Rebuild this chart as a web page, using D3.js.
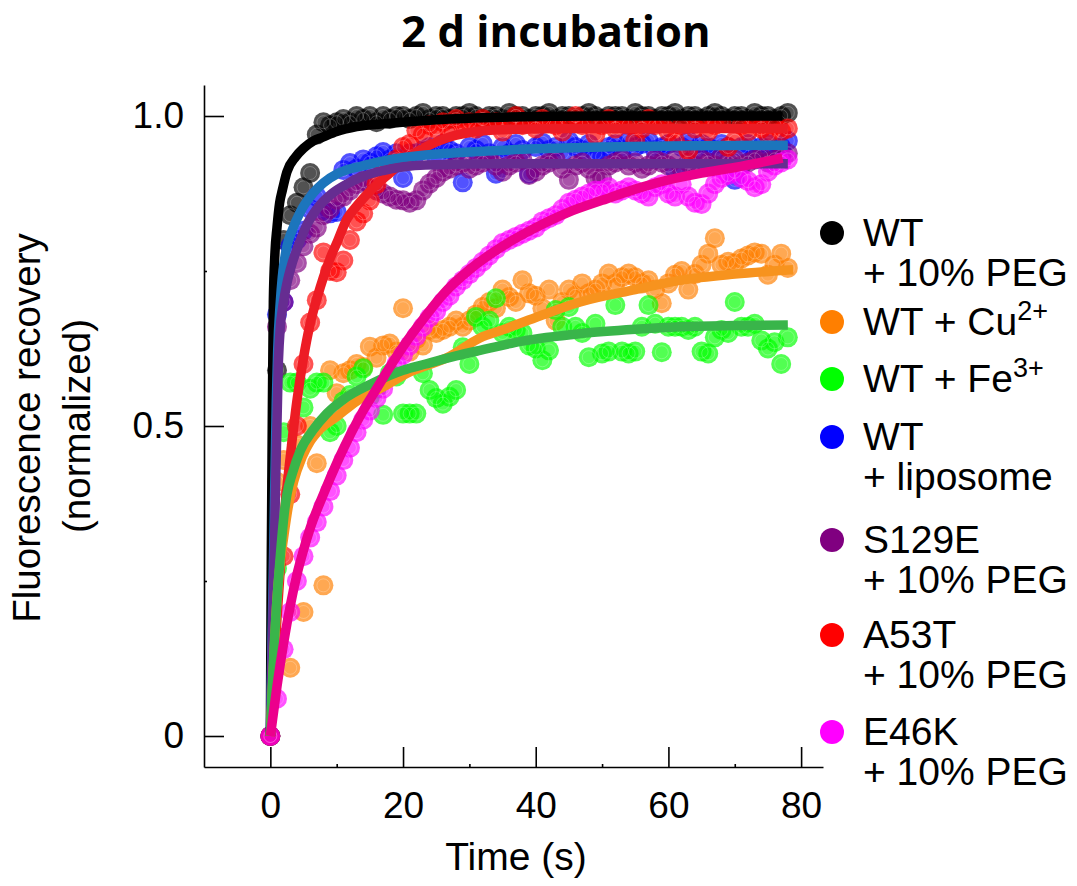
<!DOCTYPE html>
<html>
<head>
<meta charset="utf-8">
<script src="https://cdn.jsdelivr.net/npm/d3@7"></script>
<style>
  html, body { margin: 0; padding: 0; background: #fff; }
  svg { display: block; }
</style>
</head>
<body>
<svg id="chart" width="1077" height="886"></svg>
<script>
// ---------------- DATA ----------------
const times = [0,1,2,3,4,5,6,7,8,9,10,11,12,13,14,15,16,17,18,19,20,21,22,23,24,25,26,27,28,29,
  30,31,32,33,34,35,36,37,38,39,40,41,42,43,44,45,46,47,48,49,50,51,52,53,54,55,56,57,58,59,
  60,61,62,63,64,65,66,67,68,69,70,71,72,73,74,75,76,77,78];

const wtPeg = [0,0.59,0.80,0.84,0.86,0.885,0.908,0.97,0.99,0.985,
  0.99,0.995,0.99,1.0,0.995,1.0,0.99,1.0,0.995,1.0,
  1.0,0.995,1.0,1.005,0.995,1.0,1.0,0.995,1.0,1.0,
  1.005,1.0,0.995,1.0,1.0,0.995,1.005,1.0,1.0,0.995,
  1.0,1.0,1.005,0.995,1.0,1.0,0.995,1.0,1.005,1.0,
  0.995,1.0,1.0,1.0,0.995,1.005,1.0,1.0,0.995,1.0,
  1.0,1.005,0.995,1.0,1.0,0.995,1.0,1.005,1.0,0.995,
  1.0,1.0,0.995,1.005,1.0,1.0,0.995,1.0,1.005];

const wtCu = [0,0.41,0.445,0.11,0.47,0.20,0.50,0.44,0.243,0.59,
  0.553,0.585,0.59,0.60,0.595,0.628,0.61,0.63,0.633,0.62,
  0.69,0.62,0.64,0.63,0.655,0.65,0.655,0.66,0.67,0.66,
  0.67,0.68,0.692,0.70,0.69,0.72,0.708,0.70,0.735,0.714,
  0.71,0.69,0.72,0.67,0.70,0.72,0.71,0.73,0.714,0.72,
  0.73,0.746,0.73,0.74,0.746,0.74,0.73,0.735,0.72,0.698,
  0.73,0.744,0.75,0.72,0.745,0.76,0.778,0.803,0.76,0.765,
  0.762,0.77,0.775,0.78,0.778,0.744,0.76,0.778,0.755];

const wtFe = [0,0.27,0.49,0.57,0.57,0.53,0.56,0.57,0.57,0.49,
  0.50,0.54,0.55,0.58,0.593,0.547,0.56,0.518,0.585,0.58,
  0.52,0.52,0.52,0.585,0.558,0.545,0.536,0.547,0.558,0.627,
  0.60,0.676,0.66,0.67,0.706,0.65,0.66,0.655,0.65,0.63,
  0.625,0.606,0.622,0.687,0.66,0.692,0.66,0.65,0.611,0.665,
  0.617,0.62,0.695,0.62,0.617,0.62,0.66,0.695,0.665,0.619,
  0.66,0.66,0.66,0.655,0.66,0.62,0.617,0.643,0.655,0.65,
  0.70,0.66,0.66,0.665,0.638,0.625,0.635,0.60,0.643];

const wtLipo = [0,0.68,0.70,0.79,0.80,0.815,0.85,0.87,0.848,0.843,
  0.845,0.913,0.924,0.915,0.93,0.925,0.935,0.942,0.93,0.94,
  0.90,0.94,0.94,0.945,0.95,0.934,0.955,0.945,0.94,0.893,
  0.95,0.945,0.955,0.94,0.907,0.95,0.94,0.955,0.945,0.907,
  0.95,0.957,0.945,0.95,0.94,0.96,0.95,0.945,0.955,0.94,
  0.934,0.95,0.955,0.945,0.96,0.95,0.955,0.96,0.945,0.95,
  0.955,0.913,0.95,0.96,0.945,0.955,0.95,0.945,0.955,0.95,
  0.897,0.95,0.955,0.94,0.95,0.955,0.945,0.95,0.96];

const s129e = [0,0.66,0.70,0.735,0.763,0.79,0.81,0.82,0.84,0.85,
  0.865,0.87,0.88,0.89,0.895,0.89,0.88,0.875,0.87,0.865,
  0.864,0.86,0.864,0.88,0.891,0.90,0.91,0.915,0.92,0.925,
  0.915,0.92,0.925,0.93,0.92,0.91,0.92,0.925,0.93,0.905,
  0.91,0.92,0.925,0.93,0.915,0.897,0.92,0.925,0.915,0.90,
  0.90,0.92,0.925,0.93,0.92,0.925,0.915,0.92,0.93,0.925,
  0.92,0.93,0.915,0.925,0.92,0.93,0.925,0.92,0.935,0.925,
  0.93,0.92,0.925,0.93,0.935,0.925,0.93,0.935,0.94];

const a53t = [0,0.16,0.29,0.39,0.50,0.60,0.667,0.703,0.78,0.75,
  0.748,0.767,0.80,0.83,0.843,0.864,0.89,0.91,0.92,0.93,
  0.95,0.955,0.977,0.97,0.985,0.98,0.99,0.975,0.995,0.985,
  0.99,0.98,0.995,0.985,0.99,0.975,0.99,1.0,0.985,0.99,
  0.98,0.995,0.99,0.985,0.975,0.99,1.0,0.985,0.99,0.97,
  0.985,0.995,0.98,0.99,0.985,0.96,0.98,0.995,0.985,0.99,
  0.975,0.96,0.985,0.945,0.98,0.99,0.975,0.985,0.99,0.95,
  0.96,0.985,0.975,0.99,0.98,0.97,0.985,0.975,0.98];

const e46k = [0,0.06,0.14,0.20,0.25,0.29,0.32,0.345,0.37,0.395,
  0.42,0.445,0.465,0.49,0.51,0.525,0.545,0.56,0.58,0.60,
  0.615,0.63,0.645,0.66,0.675,0.685,0.70,0.71,0.725,0.735,
  0.745,0.755,0.765,0.775,0.785,0.795,0.80,0.805,0.81,0.815,
  0.82,0.83,0.835,0.84,0.85,0.86,0.865,0.87,0.875,0.88,
  0.88,0.885,0.875,0.88,0.885,0.88,0.875,0.87,0.885,0.89,
  0.875,0.87,0.89,0.87,0.86,0.858,0.875,0.89,0.90,0.905,
  0.91,0.90,0.895,0.885,0.89,0.91,0.92,0.925,0.93];

// fitted curves as [time, value] pairs
const wtPegFit = [[0,0],[0.15,0.3],[0.3,0.52],[0.45,0.70],[0.7,0.78],[1,0.82],[1.4,0.86],[1.8,0.88],[2.5,0.91],
  [3.8,0.934],[5,0.948],[6.5,0.96],[7.9,0.966],[10,0.975],[13,0.983],[17.8,0.988],[25,0.994],[35,0.998],[50,1.0],[77.2,1.0]];
const wtCuFit = [[0,0],[0.5,0.12],[1,0.22],[1.5,0.28],[2,0.32],[2.7,0.37],[3.5,0.41],[4.8,0.45],[6,0.475],[7.5,0.495],
  [10,0.515],[13,0.54],[17,0.563],[21,0.587],[27,0.612],[31.6,0.642],[35,0.655],[40,0.675],[46.7,0.70],[55,0.72],
  [61.8,0.735],[70,0.745],[78.8,0.752]];
const wtFeFit = [[0,0],[0.3,0.08],[0.6,0.15],[1,0.22],[1.5,0.29],[2,0.35],[2.5,0.39],[3.3,0.423],[4.5,0.46],[6.4,0.493],
  [8.5,0.52],[10.9,0.542],[15.4,0.569],[20,0.59],[23.4,0.60],[28,0.613],[31.6,0.622],[38,0.637],[46.7,0.649],
  [55,0.656],[61.8,0.66],[70,0.662],[78,0.663]];
const wtLipoFit = [[0,0],[0.5,0.3],[0.9,0.54],[1.1,0.62],[1.5,0.70],[1.8,0.74],[2.5,0.79],[3.3,0.816],[4.5,0.845],
  [6.4,0.875],[8,0.892],[10.3,0.908],[14,0.92],[17.8,0.929],[23.4,0.937],[30,0.942],[40,0.947],[50,0.95],[78,0.953]];
const s129eFit = [[0,0],[0.6,0.3],[1.2,0.6],[1.5,0.66],[1.8,0.687],[2.5,0.73],[3.3,0.763],[4.2,0.79],[5.3,0.82],
  [7,0.85],[9.3,0.875],[11.5,0.89],[13.8,0.902],[17,0.912],[23.4,0.921],[35,0.923],[78,0.923]];
const a53tFit = [[0,0],[0.5,0.1],[1,0.19],[1.5,0.27],[2.3,0.38],[3,0.45],[4,0.54],[5,0.61],[6,0.665],[7,0.705],
  [8,0.74],[9,0.77],[10,0.795],[11.6,0.835],[12.8,0.852],[14.5,0.873],[16.3,0.892],[18,0.908],[20.3,0.929],
  [23.4,0.95],[27,0.966],[31,0.975],[35,0.978],[45,0.98],[78,0.98]];
const e46kFit = [[0,0],[1,0.08],[2,0.15],[3,0.21],[4,0.26],[5,0.30],[6,0.335],[8,0.39],[10,0.44],[12,0.485],
  [14,0.525],[16,0.56],[18,0.595],[20,0.628],[23,0.672],[26,0.712],[30,0.752],[35,0.79],[40,0.82],[45,0.845],
  [50,0.864],[55,0.882],[60,0.897],[65,0.908],[70,0.917],[77.2,0.932]];

const xTicks = [0, 20, 40, 60, 80];
const xMinorTicks = [10, 30, 50, 70];
const yTicks = [0, 0.5, 1.0];
const yTickLabels = ["0", "0.5", "1.0"];
const yMinorTicks = [0.25, 0.75];

const seriesNames = ["wtPeg", "wtCu", "wtFe", "wtLipo", "s129e", "a53t", "e46k"];
const legendLabels = [
  [["WT"], ["+ 10% PEG"]],
  [["WT + Cu", "2+"]],
  [["WT + Fe", "3+"]],
  [["WT"], ["+ liposome"]],
  [["S129E"], ["+ 10% PEG"]],
  [["A53T"], ["+ 10% PEG"]],
  [["E46K"], ["+ 10% PEG"]]
];
const pointColors = ["#000000", "#FF7F00", "#00FF00", "#0000FF", "#800080", "#FF0000", "#FF00FF"];
const lineColors  = ["#000000", "#F7931E", "#39B54A", "#1C75BC", "#662D91", "#ED1C24", "#EC008C"];

const pointSeries = [wtPeg, wtCu, wtFe, wtLipo, s129e, a53t, e46k];
const fitSeries = [wtPegFit, wtCuFit, wtFeFit, wtLipoFit, s129eFit, a53tFit, e46kFit];

// ---------------- LAYOUT ----------------
const FONT = "'Liberation Sans', Arial, Helvetica, sans-serif";
const svg = d3.select("#chart");
const x = d3.scaleLinear().domain([-10, 83.3]).range([204, 823]);
const y = d3.scaleLinear().domain([-0.05, 1.05]).range([767, 85]);

// title
svg.append("text")
  .attr("x", 556).attr("y", 47)
  .attr("text-anchor", "middle")
  .attr("font-family", "'Open Sans', sans-serif")
  .attr("font-weight", "bold")
  .attr("font-size", 43.5)
  .attr("fill", "#000")
  .text("2 d incubation");

// points
const pointOrder = [0, 1, 2, 3, 4, 5, 6];
const pts = svg.append("g");
pointOrder.forEach(i => {
  const g = pts.append("g");
  const data = times.map((t, k) => [t, pointSeries[i][k]]);
  g.selectAll("circle.dot").data(data).join("circle")
    .attr("class", "dot")
    .attr("cx", d => x(d[0])).attr("cy", d => y(d[1]))
    .attr("r", 10)
    .attr("fill", pointColors[i])
    .attr("fill-opacity", 0.68);
  g.selectAll("circle.ring").data(data).join("circle")
    .attr("class", "ring")
    .attr("cx", d => x(d[0])).attr("cy", d => y(d[1]))
    .attr("r", 6.5)
    .attr("fill", "none")
    .attr("stroke", "#fff")
    .attr("stroke-opacity", 0.3)
    .attr("stroke-width", 0.8);
});

// fit lines
const line = d3.line().x(d => x(d[0])).y(d => y(d[1])).curve(d3.curveMonotoneX);
const lineOrder = [0, 5, 3, 4, 1, 2, 6];
const lines = svg.append("g");
lineOrder.forEach(i => {
  lines.append("path")
    .datum(fitSeries[i])
    .attr("d", line)
    .attr("fill", "none")
    .attr("stroke", lineColors[i])
    .attr("stroke-width", 9.5)
    .attr("stroke-linejoin", "round");
});

// axes
function styleAxis(g) {
  g.attr("font-family", FONT).attr("font-size", 37);
  g.selectAll("path.domain").attr("stroke", "#000").attr("stroke-width", 1.6);
  g.selectAll(".tick line").attr("stroke", "#000").attr("stroke-width", 1.6);
  g.selectAll(".tick text").attr("fill", "#000");
}
svg.append("g").attr("transform", "translate(0,767)")
  .call(d3.axisBottom(x).tickValues(xTicks).tickSize(-20).tickSizeOuter(0).tickPadding(25).tickFormat(d3.format("d")))
  .call(styleAxis);
svg.append("g").attr("transform", "translate(0,767)")
  .call(d3.axisBottom(x).tickValues(xMinorTicks).tickSize(-3).tickFormat(""))
  .call(g => g.select(".domain").remove())
  .call(styleAxis);
svg.append("g").attr("transform", "translate(204,0)")
  .call(d3.axisLeft(y).tickValues(yTicks).tickSize(-20).tickSizeOuter(0).tickPadding(20)
    .tickFormat((d, i) => yTickLabels[i]))
  .call(styleAxis);
svg.append("g").attr("transform", "translate(204,0)")
  .call(d3.axisLeft(y).tickValues(yMinorTicks).tickSize(-3).tickFormat(""))
  .call(g => g.select(".domain").remove())
  .call(styleAxis);

// axis titles
svg.append("text")
  .attr("x", 516).attr("y", 870)
  .attr("text-anchor", "middle")
  .attr("font-family", FONT).attr("font-size", 39)
  .text("Time (s)");
svg.append("text")
  .attr("transform", "translate(40,428) rotate(-90)")
  .attr("text-anchor", "middle")
  .attr("font-family", FONT).attr("font-size", 38.5)
  .text("Fluorescence recovery");
svg.append("text")
  .attr("transform", "translate(90,426) rotate(-90)")
  .attr("text-anchor", "middle")
  .attr("font-family", FONT).attr("font-size", 38.5)
  .text("(normalized)");

// legend
const legendBaselines = [246, 335, 392, 450, 553, 648, 745];
const legend = svg.append("g").attr("font-family", FONT).attr("font-size", 39);
legendLabels.forEach((lines2, i) => {
  const b = legendBaselines[i];
  legend.append("circle")
    .attr("cx", 832).attr("cy", b - 13).attr("r", 12)
    .attr("fill", pointColors[i]);
  lines2.forEach((ln, j) => {
    const t = legend.append("text").attr("x", 863).attr("y", b + j * 40).attr("fill", "#000");
    t.append("tspan").text(ln[0]);
    if (ln[1]) {
      t.append("tspan").attr("font-size", 27).attr("dy", -15).text(ln[1]);
    }
  });
});
</script>
</body>
</html>
